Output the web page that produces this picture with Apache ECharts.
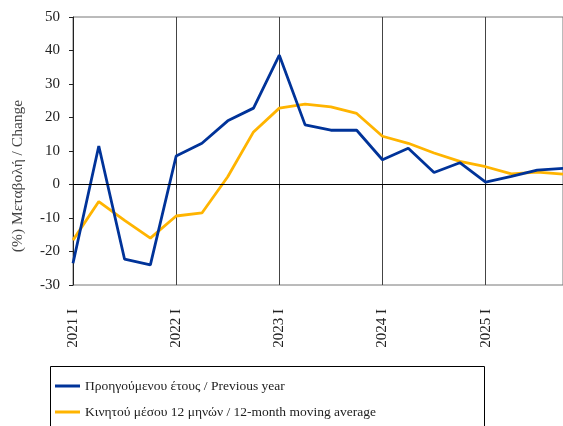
<!DOCTYPE html>
<html>
<head>
<meta charset="utf-8">
<script src="https://cdn.jsdelivr.net/npm/echarts@6/dist/echarts.min.js"></script>
<style>
  html, body { margin: 0; padding: 0; background: #fff; }
  #chart { width: 563px; height: 426px; }
</style>
</head>
<body>
<div id="chart"></div>
<script>
const quarters = [
    '2021 I', '2021 II', '2021 III', '2021 IV',
    '2022 I', '2022 II', '2022 III', '2022 IV',
    '2023 I', '2023 II', '2023 III', '2023 IV',
    '2024 I', '2024 II', '2024 III', '2024 IV',
    '2025 I', '2025 II', '2025 III', '2025 IV'
];
const previousYear = [
    -23.5, 11.5, -22.3, -24,
    8.5, 12.3, 19, 22.8,
    38.6, 17.8, 16.2, 16.2,
    7.4, 10.8, 3.6, 6.5,
    0.7, 2.4, 4.3, 4.8
];
const movingAvg = [
    -16.6, -5.1, -10.7, -16,
    -9.4, -8.5, 2.3, 15.7,
    22.8, 24, 23.2, 21.2,
    14.4, 12.3, 9.4, 6.9,
    5.3, 3.2, 3.7, 3.1
];
const seriesNames = [
    'Προηγούμενου έτους / Previous year',
    'Κινητού μέσου 12 μηνών / 12-month moving average'
];

const serif = '"Liberation Serif", "DejaVu Serif", serif';
const chart = echarts.init(document.getElementById('chart'));

chart.setOption({
    animation: false,
    textStyle: { fontFamily: serif },
    grid: {
        left: 73, right: -2, top: 17, bottom: 141,
        show: true, borderColor: '#777', borderWidth: 1
    },
    graphic: [{
        type: 'rect',
        shape: { x: 50.5, y: 366.5, width: 434, height: 70 },
        style: { fill: 'none', stroke: '#000', lineWidth: 1 },
        silent: true
    }],
    legend: {
        orient: 'vertical',
        left: 50, top: 374,
        itemWidth: 25, itemHeight: 3,
        itemGap: 12,
        icon: 'rect',
        textStyle: { fontFamily: serif, fontSize: 13.5, color: '#222' },
        data: seriesNames
    },
    xAxis: {
        type: 'category',
        data: quarters,
        boundaryGap: false,
        axisLine: { lineStyle: { color: '#222', width: 1 } },
        axisTick: { interval: 3, length: 4, lineStyle: { color: '#222' } },
        axisLabel: {
            interval: 3, rotate: 90, margin: 24,
            fontFamily: serif, fontSize: 15, color: '#222'
        },
        splitLine: { show: true, interval: 3, lineStyle: { color: '#444', width: 1 } }
    },
    yAxis: {
        type: 'value',
        min: -30, max: 50, interval: 10,
        name: '(%) Μεταβολή / Change',
        nameLocation: 'middle',
        nameGap: 47,
        nameTextStyle: {
            fontFamily: serif, fontSize: 15.5, color: '#444',
            padding: [0, 50, 0, 0]
        },
        axisLine: { show: true, lineStyle: { color: '#222', width: 1 } },
        axisTick: { show: true, length: 4, lineStyle: { color: '#222' } },
        axisLabel: { margin: 13, fontFamily: serif, fontSize: 15, color: '#222' },
        splitLine: { show: false }
    },
    series: [{
        name: seriesNames[0],
        type: 'line',
        data: previousYear,
        symbol: 'none',
        lineStyle: { color: '#003399', width: 2.8 },
        itemStyle: { color: '#003399' },
        z: 3,
        markLine: {
            silent: true,
            symbol: 'none',
            label: { show: false },
            lineStyle: { color: '#000', width: 1, type: 'solid' },
            data: [{ yAxis: 0 }]
        }
    }, {
        name: seriesNames[1],
        type: 'line',
        data: movingAvg,
        symbol: 'none',
        lineStyle: { color: '#FFB400', width: 2.8 },
        itemStyle: { color: '#FFB400' },
        z: 2
    }]
});
</script>
</body>
</html>
